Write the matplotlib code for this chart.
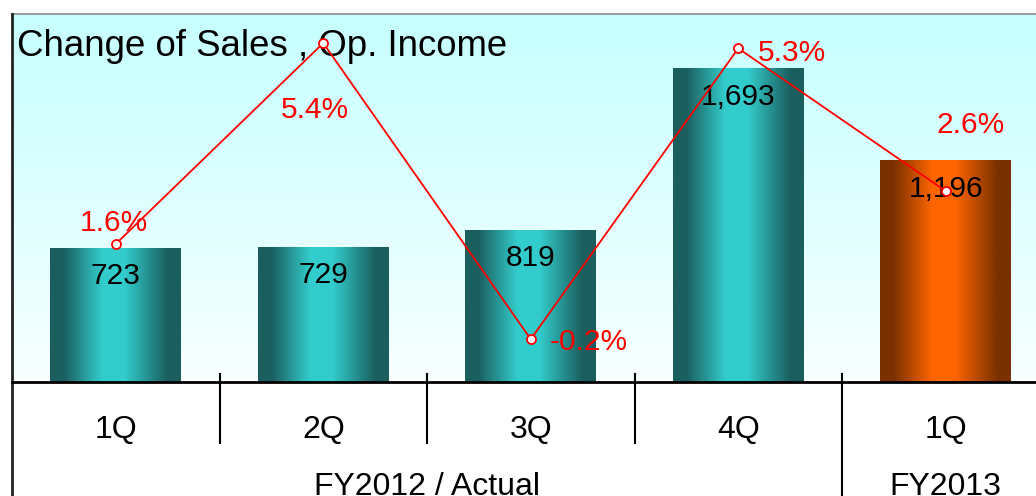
import numpy as np
import matplotlib.pyplot as plt
from matplotlib.colors import LinearSegmentedColormap

# Data
quarters = ["1Q", "2Q", "3Q", "4Q", "1Q"]
sales = [723, 729, 819, 1693, 1196]
sales_labels = ["723", "729", "819", "1,693", "1,196"]
op_margin = [1.6, 5.4, -0.2, 5.3, 2.6]
margin_labels = ["1.6%", "5.4%", "-0.2%", "5.3%", "2.6%"]
groups = ["FY2012 / Actual", "FY2013"]
group_members = [[0, 1, 2, 3], [4]]

plt.rcParams["font.family"] = ["Liberation Sans", "DejaVu Sans"]

W, H = 1036, 496
fig = plt.figure(figsize=(W / 100, H / 100), dpi=100)
ax = fig.add_axes([12 / W, 114 / H, 1037.5 / W, 368 / H])

x = np.arange(len(sales))
xlim = (-0.5, len(sales) - 0.5)
ylim = (0, 1990)

# background gradient (cyan at top, almost white at the baseline)
bg = LinearSegmentedColormap.from_list("bg", ["#f8ffff", "#c6ffff"])
ax.imshow(np.linspace(0, 1, 256).reshape(-1, 1), cmap=bg, origin="lower",
          aspect="auto", extent=[*xlim, *ylim], zorder=0)

# bars with horizontal shading
def shade(dark, bright):
    return LinearSegmentedColormap.from_list(
        "s", [(0, dark), (0.1, dark), (0.4, bright), (0.57, bright),
              (0.9, dark), (1, dark)])

teal = shade("#1b5e5e", "#33cccc")
orange = shade("#7a3000", "#ff6600")
bar_cmaps = [teal, teal, teal, teal, orange]

bars = ax.bar(x, sales, width=0.63, color="none", zorder=2)
grad = np.linspace(0, 1, 256).reshape(1, -1)
for b, cm in zip(bars, bar_cmaps):
    ax.imshow(grad, cmap=cm, aspect="auto",
              extent=[b.get_x(), b.get_x() + b.get_width(), 0, b.get_height()],
              zorder=2)

for b, lbl in zip(bars, sales_labels):
    ax.annotate(lbl, (b.get_x() + b.get_width() / 2, b.get_height()),
                xytext=(0, -20), textcoords="offset points",
                ha="center", va="center", fontsize=21.5, zorder=3)

ax.set_xlim(*xlim)
ax.set_ylim(*ylim)
ax.set_xticks([])
ax.set_yticks([])
for s in ax.spines.values():
    s.set_visible(False)

# title
ax.text(0.005, 0.913, "Change of Sales , Op. Income", transform=ax.transAxes,
        fontsize=26.4, ha="left", va="center", zorder=3)

# frame lines
ax.plot([0, 1], [1, 1], transform=ax.transAxes, color="#a0a0a0", lw=1.5,
        clip_on=False)
ax.plot([0, 0], [1, -0.32], transform=ax.transAxes, color="#222222", lw=2,
        clip_on=False)
ax.axhline(0, color="black", lw=2, clip_on=False, zorder=4)

# category axis labels and separators
xt = ax.get_xaxis_transform()
for i, q in enumerate(quarters):
    ax.text(i, -0.152, q, transform=xt, ha="center", va="baseline",
            fontsize=23)
for g, members in zip(groups, group_members):
    ax.text(np.mean(members), -0.307, g, transform=xt, ha="center",
            va="baseline", fontsize=23)
    for m in members[:-1]:
        ax.plot([m + 0.5, m + 0.5], [0.022, -0.166], transform=xt,
                color="black", lw=1.5, clip_on=False)
    if members[-1] < len(quarters) - 1:
        ax.plot([members[-1] + 0.5] * 2, [0.022, -0.32], transform=xt,
                color="black", lw=1.5, clip_on=False)

# operating margin line
ax2 = ax.twinx()
ax2.set_ylim(-1.01, 5.95)
ax2.axis("off")
ax2.plot(x, op_margin, color="red", lw=1.3, marker="o", ms=6.5,
         mfc="white", mec="red", mew=1.3, zorder=4)
offsets = [(-1.5, 15), (-6, -48), (42, -2), (39, -3), (18, 47.5)]
for xi, v, lbl, off in zip(x, op_margin, margin_labels, offsets):
    ax2.annotate(lbl, (xi, v), xytext=off, textcoords="offset points",
                 ha="center", va="center", color="red", fontsize=21.5,
                 zorder=5)

fig.savefig("out.png", dpi=100)
